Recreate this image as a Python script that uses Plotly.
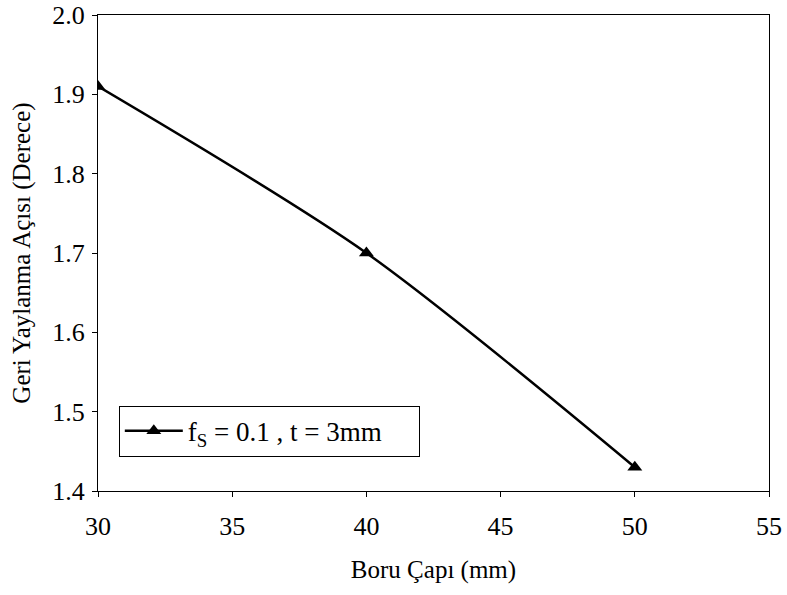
import plotly.graph_objects as go

boru_capi = [30, 40, 50]
geri_yaylanma = [1.91, 1.70, 1.43]
series_name = "f<sub>S</sub> = 0.1 , t = 3mm"
x_ticks = [30, 35, 40, 45, 50, 55]
y_ticks = [1.4, 1.5, 1.6, 1.7, 1.8, 1.9, 2.0]

font_family = "Liberation Serif, Times New Roman, serif"

fig = go.Figure()
fig.add_trace(go.Scatter(
    x=boru_capi, y=geri_yaylanma, name=series_name,
    mode="lines+markers",
    line=dict(color="black", width=2.5, shape="spline", smoothing=0.8),
    marker=dict(symbol="triangle-up", size=13, color="black"),
    showlegend=True,
))

fig.update_layout(
    width=787, height=595,
    margin=dict(l=98, r=18, t=15, b=104, autoexpand=False),
    paper_bgcolor="white", plot_bgcolor="white",
    font=dict(family=font_family, size=23, color="black"),
    showlegend=True,
    legend=dict(
        x=0.031, y=0.179, xanchor="left", yanchor="top",
        orientation="h", entrywidth=226, entrywidthmode="pixels",
        bordercolor="black", borderwidth=1, bgcolor="white",
        font=dict(size=27, family=font_family),
        itemwidth=58,
    ),
    xaxis=dict(
        range=[30, 55], tickvals=x_ticks, ticktext=[str(v) for v in x_ticks],
        showgrid=False, zeroline=False, showline=True, linecolor="black",
        linewidth=1, mirror=True, ticks="outside", ticklen=5, tickcolor="black",
        title=dict(text="Boru Çapı (mm)", font=dict(size=25), standoff=20),
        tickfont=dict(size=26), automargin=False, ticklabelstandoff=7,
    ),
    yaxis=dict(
        range=[1.4, 2.0], tickvals=y_ticks, ticktext=[f"{v:.1f}" for v in y_ticks],
        showgrid=False, zeroline=False, showline=True, linecolor="black",
        linewidth=1, mirror=True, ticks="outside", ticklen=5, tickcolor="black",
        title=dict(text="Geri Yaylanma Açısı (Derece)", font=dict(size=25), standoff=14),
        tickfont=dict(size=26), automargin=False, ticklabelstandoff=2,
    ),
)

fig.write_html("out.html")
